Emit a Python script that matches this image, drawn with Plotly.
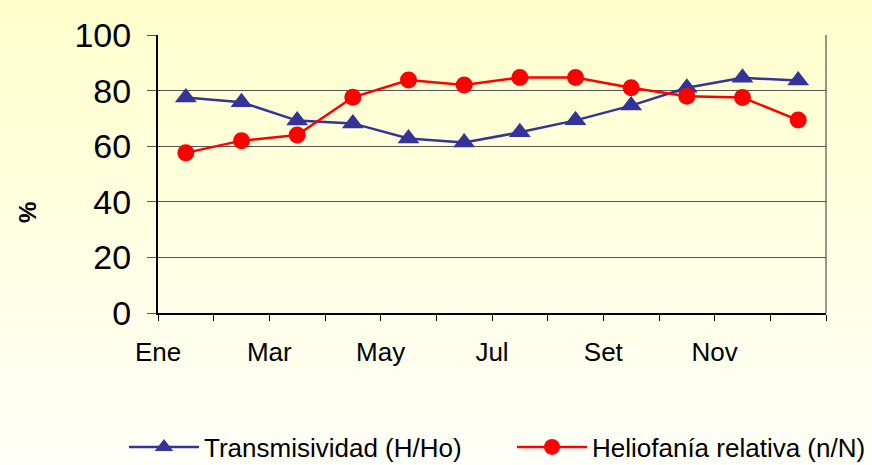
import base64, struct, zlib
import plotly.graph_objects as go

# ---- data ----
months = ["Ene", "Feb", "Mar", "Abr", "May", "Jun", "Jul", "Ago", "Set", "Oct", "Nov", "Dic"]
transmisividad = [77.5, 75.8, 69.2, 68.2, 62.8, 61.3, 65.0, 69.3, 74.6, 81.0, 84.6, 83.6]
heliofania = [57.6, 62.0, 64.0, 77.6, 83.8, 82.0, 84.7, 84.7, 81.0, 78.0, 77.5, 69.4]
y_ticks = [0, 20, 40, 60, 80, 100]

FONT = "Liberation Sans, Arial, sans-serif"

# month i drawn at centre of its slot; labels at the slot's left boundary (Excel style)
x_pos = [i + 0.5 for i in range(len(months))]
tick_vals = list(range(len(months) + 1))
tick_text = [months[i] if (i < len(months) and i % 2 == 0) else "" for i in tick_vals]


# ---- vertical gradient background as a tiny PNG ----
def gradient_png(top, bottom, h=256):
    rows = b""
    for r in range(h):
        t = r / (h - 1)
        c = tuple(int(round(top[k] + (bottom[k] - top[k]) * t)) for k in range(3))
        rows += b"\x00" + bytes(c)
    def chunk(tag, data):
        return struct.pack(">I", len(data)) + tag + data + struct.pack(">I", zlib.crc32(tag + data) & 0xffffffff)
    png = b"\x89PNG\r\n\x1a\n"
    png += chunk(b"IHDR", struct.pack(">IIBBBBB", 1, h, 8, 2, 0, 0, 0))
    png += chunk(b"IDAT", zlib.compress(rows))
    png += chunk(b"IEND", b"")
    return "data:image/png;base64," + base64.b64encode(png).decode()


W, H = 872, 465
ml, mr, mt, mb = 158, 46, 35, 152
pw, ph = W - ml - mr, H - mt - mb

fig = go.Figure()
fig.add_trace(go.Scatter(
    x=x_pos, y=transmisividad, mode="lines+markers", name="Transmisividad (H/Ho)",
    line=dict(color="#333399", width=2.5),
    marker=dict(symbol="triangle-up", size=19, color="#333399"),
))
fig.add_trace(go.Scatter(
    x=x_pos, y=heliofania, mode="lines+markers", name="Heliofanía relativa (n/N)",
    line=dict(color="#FF0000", width=2.5),
    marker=dict(symbol="circle", size=17, color="#FF0000"),
))

fig.update_layout(
    width=W, height=H,
    margin=dict(l=ml, r=mr, t=mt, b=mb, autoexpand=False),
    paper_bgcolor="#FFFFF0",
    plot_bgcolor="rgba(0,0,0,0)",
    font=dict(family=FONT, color="black"),
    images=[dict(
        source=gradient_png((255, 255, 204), (255, 255, 248)),
        xref="paper", yref="paper",
        x=-ml / pw - 0.01, y=1 + mt / ph + 0.01, sizex=W / pw + 0.02, sizey=H / ph + 0.02,
        sizing="stretch", xanchor="left", yanchor="top", layer="below",
    )],
    xaxis=dict(
        range=[0, len(months)], tickmode="array", tickvals=tick_vals, ticktext=tick_text,
        showgrid=False, zeroline=False, showline=True, linecolor="black", linewidth=2,
        ticks="outside", ticklen=6, tickwidth=1, tickcolor="black", automargin=False,
        tickfont=dict(size=26, family=FONT), ticklabelstandoff=9,
    ),
    yaxis=dict(
        range=[0, 100], tickmode="array", tickvals=y_ticks, automargin=False,
        showgrid=True, gridcolor="#555555", gridwidth=1.3,
        zeroline=False, showline=True, linecolor="black", linewidth=2,
        ticks="outside", ticklen=9, tickwidth=1, tickcolor="#555555",
        tickfont=dict(size=34, family=FONT), ticklabelstandoff=9,
    ),
    shapes=[dict(type="line", xref="paper", yref="paper", x0=1, x1=1, y0=0, y1=1,
                 line=dict(color="#333333", width=1))],
    annotations=[dict(text="<b>%</b>", xref="paper", yref="paper",
                      x=(27 - ml) / pw, y=(H - mb - 213) / ph, xanchor="center", yanchor="middle",
                      textangle=-90, showarrow=False, font=dict(size=24, family=FONT))],
    legend=dict(
        orientation="h", x=(124 - ml) / pw, xanchor="left",
        y=(H - mb - 447) / ph, yanchor="middle",
        font=dict(size=26, family=FONT), itemwidth=70, entrywidth=303,
        bgcolor="rgba(0,0,0,0)",
    ),
    showlegend=True,
)

fig.write_html("out.html", config={"displayModeBar": False},
               post_script="document.body.style.margin='0';document.body.style.overflow='hidden';")
